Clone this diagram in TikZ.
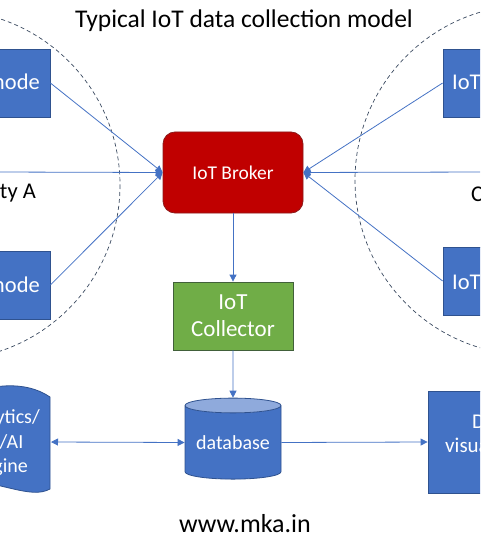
\documentclass[tikz,border=0pt]{standalone}
\usepackage{fontspec}
\setmainfont{Carlito}
\usetikzlibrary{arrows.meta,positioning,shapes.geometric}

\definecolor{iotblue}{HTML}{4472C4}
\definecolor{iotedge}{HTML}{2F528F}
\definecolor{dbtop}{HTML}{8FAADC}
\definecolor{brokerred}{HTML}{C00000}
\definecolor{brokeredge}{HTML}{8C1A1A}
\definecolor{collgreen}{HTML}{70AD47}
\definecolor{colledge}{HTML}{41603A}
\definecolor{zoneline}{HTML}{3A4A60}

\tikzset{
  devbox/.style={rectangle, fill=iotblue, draw=iotedge, line width=0.8pt, inner sep=0},
  boxtext/.style={text=white, inner sep=0, font=\fontsize{22.5}{26}\selectfont},
  plain/.style={inner sep=0, font=\fontsize{22.5}{26}\selectfont},
  link/.style={draw=iotblue, line width=0.8pt},
  tolink/.style={link, -{Triangle[length=7pt,width=7pt]}},
  zone/.style={draw=zoneline, dash pattern=on 4pt off 3pt, line width=0.7pt}
}

\begin{document}
\begin{tikzpicture}[x=1pt, y=-1pt]
  \useasboundingbox (0,0) rectangle (480,537);
  \clip (0,0) rectangle (480,537);

  %%%%%%%%%%%%%%%%zones%%%%%%%%%%%%%%
  \draw[zone] (-55,185) circle (175);
  \draw[zone] (530,180) circle (175);

  \node[plain, anchor=base] (title) at (244,28) {\fontsize{25.5}{30}\selectfont Typical IoT data collection model};
  \node[plain, anchor=base east] (zoneA) at (36,199) {ty A};
  \node[plain, anchor=base west] (zoneB) at (471,201) {C};

  %%%%%%%%%%%%%%%%devices%%%%%%%%%%%%%%
  \node[devbox, minimum width=110, minimum height=68] (devA1) at (-5,83) {};
  \node[boxtext, anchor=base east] at (40,90) {mode};
  \node[devbox, minimum width=110, minimum height=68] (devA2) at (-5,285) {};
  \node[boxtext, anchor=base east] at (40,292) {mode};
  \node[devbox, minimum width=110, minimum height=68] (devB1) at (498,83) {};
  \node[boxtext, anchor=base west] at (452,90) {IoT};
  \node[devbox, minimum width=110, minimum height=68] (devB2) at (498,281) {};
  \node[boxtext, anchor=base west] at (452,289) {IoT};
  \coordinate (edgeA) at (-5,172);
  \coordinate (edgeB) at (485,172);

  %%%%%%%%%%%%%%%%broker and collector%%%%%%%%%%%%%%
  \node[rectangle, rounded corners=12pt, fill=brokerred, draw=brokeredge, line width=0.8pt,
        minimum width=140, minimum height=81, text=white,
        font=\fontsize{19.5}{23}\selectfont] (broker) at (233,172.5) {IoT Broker};
  \node[rectangle, fill=collgreen, draw=colledge, line width=0.8pt,
        minimum width=120, minimum height=68, text=white, align=center,
        font=\fontsize{23}{27}\selectfont] (collector) at (233,316) {IoT\\Collector};

  \draw[tolink] (devA1.east) -- (broker.west);
  \draw[tolink] (edgeA) -- (broker.west);
  \draw[tolink] (devA2.east) -- (broker.west);
  \draw[tolink] (devB1.west) -- (broker.east);
  \draw[tolink] (edgeB) -- (broker.east);
  \draw[tolink] (devB2.west) -- (broker.east);
  \draw[tolink] (broker) -- (collector);

  %%%%%%%%%%%%%%%%storage and consumers%%%%%%%%%%%%%%
  \node[cylinder, shape border rotate=90, aspect=0.2, draw=iotedge, line width=0.8pt,
        cylinder uses custom fill, cylinder body fill=iotblue, cylinder end fill=dbtop,
        minimum width=96, minimum height=81, inner sep=0, text=white,
        font=\fontsize{20}{24}\selectfont] (database) at (233,442.5) {database};
  \draw[tolink] (collector) -- (database);

  \filldraw[fill=iotblue, draw=iotedge, line width=0.8pt]
    (-45,398) .. controls (-10,384) and (25,380) .. (50,397) -- (50,489)
    .. controls (30,500) and (0,480) .. (-45,480) -- cycle;
  \node[boxtext, font=\fontsize{20}{24}\selectfont, anchor=base east] at (40,423) {ytics/};
  \node[boxtext, font=\fontsize{20}{24}\selectfont, anchor=base east] at (23.5,448) {/AI};
  \node[boxtext, font=\fontsize{20}{24}\selectfont, anchor=base east] at (28,472) {gine};
  \coordinate (engine) at (51,442);
  \draw[link, {Triangle[length=7pt,width=7pt]}-{Triangle[length=7pt,width=7pt]}] (engine) -- (database.west);

  \node[devbox, minimum width=110, minimum height=102] (dataviz) at (483,442) {};
  \node[boxtext, font=\fontsize{21}{25}\selectfont, anchor=base west] at (472,428) {D};
  \node[boxtext, font=\fontsize{21}{25}\selectfont, anchor=base west] at (445,452) {visua};
  \draw[tolink] (database.east) -- (dataviz.west);

  \node[plain, anchor=base] (site) at (245,532) {\fontsize{26}{30}\selectfont www.mka.in};
\end{tikzpicture}
\end{document}
